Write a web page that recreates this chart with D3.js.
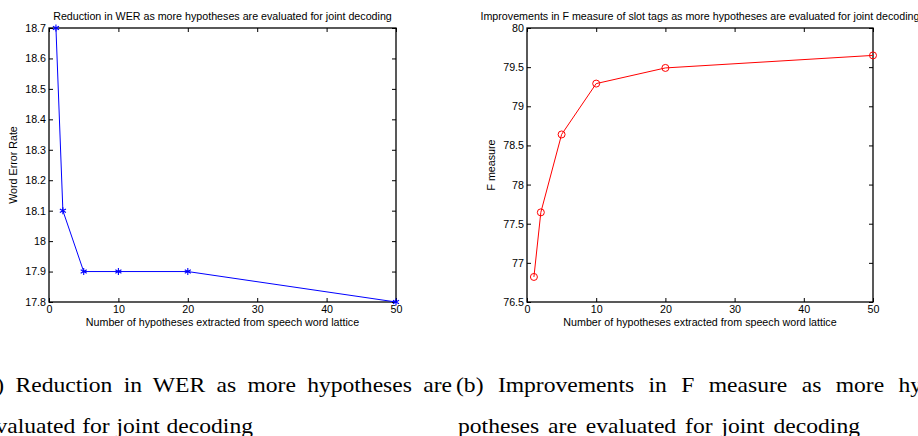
<!DOCTYPE html>
<html><head><meta charset="utf-8">
<script src="https://cdn.jsdelivr.net/npm/d3@7"></script>
<style>body{margin:0;background:#fff}svg{display:block}</style>
</head><body>
<svg id="c" width="918" height="436"></svg>
<script>
const hypotheses = [1, 2, 5, 10, 20, 50];
const werValues = [18.7, 18.1, 17.9, 17.9, 17.9, 17.8];
const fValues = [76.82, 77.645, 78.64, 79.29, 79.49, 79.65];
const xTicks = [0, 10, 20, 30, 40, 50];
const werTicks = [17.8, 17.9, 18, 18.1, 18.2, 18.3, 18.4, 18.5, 18.6, 18.7];
const fTicks = [76.5, 77, 77.5, 78, 78.5, 79, 79.5, 80];

const svg = d3.select("#c");
const font = "'Liberation Sans', Arial, sans-serif";
const fs = 10.7;

function panel(opts) {
  const {x0, x1, y0, y1, yDomain, yTicks, values, color, marker, title, ylabel, ylabelX} = opts;
  const x = d3.scaleLinear().domain([0, 50]).range([x0, x1]);
  const y = d3.scaleLinear().domain(yDomain).range([y1, y0]);
  const g = svg.append("g");
  const tl = 4;
  const bottom = g.append("g").attr("transform", `translate(0,${y1})`)
    .call(d3.axisBottom(x).tickValues(xTicks).tickSizeInner(-tl).tickSizeOuter(0).tickPadding(3).tickFormat(d3.format("d")));
  const top = g.append("g").attr("transform", `translate(0,${y0})`)
    .call(d3.axisTop(x).tickValues(xTicks).tickSizeInner(-tl).tickSizeOuter(0).tickFormat(""));
  const left = g.append("g").attr("transform", `translate(${x0},0)`)
    .call(d3.axisLeft(y).tickValues(yTicks).tickSizeInner(-tl).tickSizeOuter(0).tickPadding(3).tickFormat(d => String(+d.toFixed(2))));
  const right = g.append("g").attr("transform", `translate(${x1},0)`)
    .call(d3.axisRight(y).tickValues(yTicks).tickSizeInner(-tl).tickSizeOuter(0).tickFormat(""));
  [bottom, top, left, right].forEach(a => {
    a.select(".domain").remove();
    a.selectAll("line").attr("stroke", "#000").attr("stroke-width", 1);
    a.selectAll("text").attr("font-family", font).attr("font-size", fs).attr("fill", "#000");
  });
  g.append("rect").attr("x", x0).attr("y", y0).attr("width", x1 - x0).attr("height", y1 - y0)
    .attr("fill", "none").attr("stroke", "#000").attr("stroke-width", 1.3);

  const pts = hypotheses.map((h, i) => [x(h), y(values[i])]);
  g.append("path").attr("d", d3.line()(pts)).attr("fill", "none").attr("stroke", color).attr("stroke-width", 1);
  if (marker === "star") {
    g.selectAll(".m").data(pts).enter().append("path")
      .attr("d", d3.symbol(d3.symbolAsterisk, 34)())
      .attr("transform", d => `translate(${d[0]},${d[1]})`)
      .attr("fill", "none").attr("stroke", color).attr("stroke-width", 1.1);
  } else {
    g.selectAll(".m").data(pts).enter().append("circle")
      .attr("cx", d => d[0]).attr("cy", d => d[1]).attr("r", 3.5)
      .attr("fill", "none").attr("stroke", color).attr("stroke-width", 1);
  }
  g.append("text").attr("x", (x0 + x1) / 2).attr("y", y0 - 8).attr("text-anchor", "middle")
    .attr("font-family", font).attr("font-size", fs).text(title);
  g.append("text").attr("x", (x0 + x1) / 2).attr("y", y1 + 24).attr("text-anchor", "middle")
    .attr("font-family", font).attr("font-size", fs).text("Number of hypotheses extracted from speech word lattice");
  g.append("text").attr("transform", `translate(${ylabelX},${(y0 + y1) / 2}) rotate(-90)`)
    .attr("text-anchor", "middle").attr("font-family", font).attr("font-size", fs).text(ylabel);
}

panel({x0: 49, x1: 396, y0: 28, y1: 302, yDomain: [17.8, 18.7], yTicks: werTicks, values: werValues,
  color: "#0000ff", marker: "star", title: "Reduction in WER as more hypotheses are evaluated for joint decoding",
  ylabel: "Word Error Rate", ylabelX: 17});
panel({x0: 527, x1: 873, y0: 28, y1: 302, yDomain: [76.5, 80], yTicks: fTicks, values: fValues,
  color: "#ff0000", marker: "circle", title: "Improvements in F measure of slot tags as more hypotheses are evaluated for joint decoding",
  ylabel: "F measure", ylabelX: 495});

const serif = "'Liberation Serif', 'Times New Roman', serif";
const sx = 1.18;
function cap(x, y, txt, len) {
  const g = svg.append("g").attr("transform", `translate(${x},${y}) scale(${sx},1)`);
  const t = g.append("text").attr("x", 0).attr("y", 0).attr("font-family", serif).attr("font-size", 20).text(txt);
  const natural = t.node().getComputedTextLength();
  const spaces = txt.split(" ").length - 1;
  const ws = Math.max(0, (len / sx - natural) / spaces);
  t.attr("word-spacing", ws);
}
cap(-22, 392, "(a) Reduction in WER as more hypotheses are", 474);
cap(-15, 432.5, "evaluated for joint decoding", 268);
cap(456, 392, "(b) Improvements in F measure as more hy-", 474);
cap(458, 432.5, "potheses are evaluated for joint decoding", 402);
</script>
</body></html>
